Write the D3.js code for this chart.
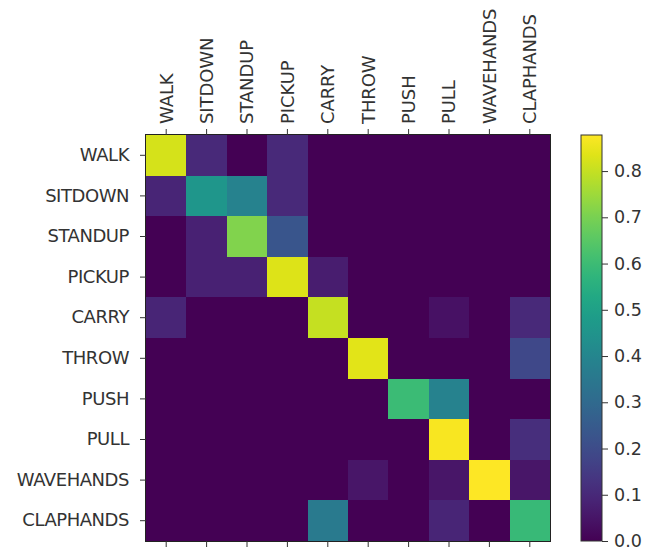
<!DOCTYPE html>
<html>
<head>
<meta charset="utf-8">
<script src="https://cdn.jsdelivr.net/npm/d3@7/dist/d3.min.js"></script>
<style>
  html, body { margin: 0; padding: 0; background: #fff; }
  svg { display: block; }
  text { font-family: "DejaVu Sans", "Liberation Sans", sans-serif; fill: #333; }
</style>
</head>
<body>
<svg id="chart" width="654" height="550"></svg>
<script>
const classes = ["WALK", "SITDOWN", "STANDUP", "PICKUP", "CARRY", "THROW", "PUSH", "PULL", "WAVEHANDS", "CLAPHANDS"];

// rows = true class, columns = predicted class
const rowWALK      = [0.82, 0.10, 0.00, 0.10, 0.00, 0.00, 0.00, 0.00, 0.00, 0.00];
const rowSITDOWN   = [0.09, 0.46, 0.39, 0.10, 0.00, 0.00, 0.00, 0.00, 0.00, 0.00];
const rowSTANDUP   = [0.00, 0.08, 0.71, 0.23, 0.00, 0.00, 0.00, 0.00, 0.00, 0.00];
const rowPICKUP    = [0.00, 0.08, 0.08, 0.83, 0.07, 0.00, 0.00, 0.00, 0.00, 0.00];
const rowCARRY     = [0.09, 0.00, 0.00, 0.00, 0.80, 0.00, 0.00, 0.04, 0.00, 0.10];
const rowTHROW     = [0.00, 0.00, 0.00, 0.00, 0.00, 0.84, 0.00, 0.00, 0.00, 0.19];
const rowPUSH      = [0.00, 0.00, 0.00, 0.00, 0.00, 0.00, 0.60, 0.39, 0.00, 0.00];
const rowPULL      = [0.00, 0.00, 0.00, 0.00, 0.00, 0.00, 0.00, 0.87, 0.00, 0.115];
const rowWAVEHANDS = [0.00, 0.00, 0.00, 0.00, 0.00, 0.05, 0.00, 0.05, 0.878, 0.05];
const rowCLAPHANDS = [0.00, 0.00, 0.00, 0.00, 0.36, 0.00, 0.00, 0.09, 0.00, 0.59];

const colorbarTicks = [0.0, 0.1, 0.2, 0.3, 0.4, 0.5, 0.6, 0.7, 0.8];

const matrix = [rowWALK, rowSITDOWN, rowSTANDUP, rowPICKUP, rowCARRY, rowTHROW, rowPUSH, rowPULL, rowWAVEHANDS, rowCLAPHANDS];
const vmax = d3.max(matrix.flat());

const svg = d3.select("#chart");
const x = d3.scaleBand().domain(classes).range([146, 550]).padding(0);
const y = d3.scaleBand().domain(classes).range([135, 541]).padding(0);
const color = d3.scaleSequential(d3.interpolateViridis).domain([0, vmax]);

const cells = [];
matrix.forEach((row, i) => row.forEach((v, j) => cells.push({r: classes[i], c: classes[j], v})));

svg.append("g").attr("shape-rendering", "crispEdges")
  .selectAll("rect").data(cells).join("rect")
  .attr("x", d => Math.round(x(d.c)))
  .attr("y", d => Math.round(y(d.r)))
  .attr("width", d => Math.round(x(d.c) + x.bandwidth()) - Math.round(x(d.c)))
  .attr("height", d => Math.round(y(d.r) + y.bandwidth()) - Math.round(y(d.r)))
  .attr("fill", d => color(d.v));

// frame
svg.append("rect")
  .attr("x", 145.5).attr("y", 134.5)
  .attr("width", 405).attr("height", 407)
  .attr("fill", "none").attr("stroke", "#222").attr("stroke-width", 1);

const fontSize = "18px";

// top axis
const topAxis = svg.append("g").attr("transform", "translate(0,135)")
  .call(d3.axisTop(x).tickSize(6).tickPadding(5));
topAxis.select(".domain").remove();
topAxis.selectAll(".tick line").attr("stroke", "#333");
topAxis.selectAll(".tick text")
  .attr("transform", "rotate(-90)")
  .attr("x", 11).attr("y", 0)
  .attr("dy", "0.35em")
  .attr("text-anchor", "start")
  .style("font-size", fontSize)
  .style("letter-spacing", "-0.1px")
  .style("fill", "#333");

// bottom ticks (no labels)
const bottomAxis = svg.append("g").attr("transform", "translate(0,541)")
  .call(d3.axisBottom(x).tickSize(6).tickFormat(""));
bottomAxis.select(".domain").remove();
bottomAxis.selectAll(".tick line").attr("stroke", "#333");

// left axis
const leftAxis = svg.append("g").attr("transform", "translate(146,0)")
  .call(d3.axisLeft(y).tickSize(6).tickPadding(11));
leftAxis.select(".domain").remove();
leftAxis.selectAll(".tick line").attr("stroke", "#333");
leftAxis.selectAll(".tick text")
  .style("font-size", fontSize)
  .style("letter-spacing", "-0.45px")
  .style("fill", "#333");

// colorbar
const cbX = 581, cbW = 21, cbTop = 135, cbBottom = 541;
const cbScale = d3.scaleLinear().domain([0, vmax]).range([cbBottom, cbTop]);
const defs = svg.append("defs");
const grad = defs.append("linearGradient").attr("id", "cbgrad")
  .attr("x1", "0%").attr("y1", "100%").attr("x2", "0%").attr("y2", "0%");
d3.range(0, 1.0001, 0.05).forEach(t => {
  grad.append("stop").attr("offset", (t * 100) + "%").attr("stop-color", d3.interpolateViridis(t));
});
svg.append("rect")
  .attr("x", cbX).attr("y", cbTop)
  .attr("width", cbW).attr("height", cbBottom - cbTop)
  .attr("fill", "url(#cbgrad)")
  .attr("stroke", "#333").attr("stroke-width", 1);

const cbAxis = svg.append("g").attr("transform", `translate(${cbX + cbW},0)`)
  .call(d3.axisRight(cbScale).tickValues(colorbarTicks).tickFormat(d3.format(".1f")).tickSize(6).tickPadding(6));
cbAxis.select(".domain").remove();
cbAxis.selectAll(".tick line").attr("stroke", "#333");
cbAxis.selectAll(".tick text").style("font-size", "17.5px").style("fill", "#333");
</script>
</body>
</html>
